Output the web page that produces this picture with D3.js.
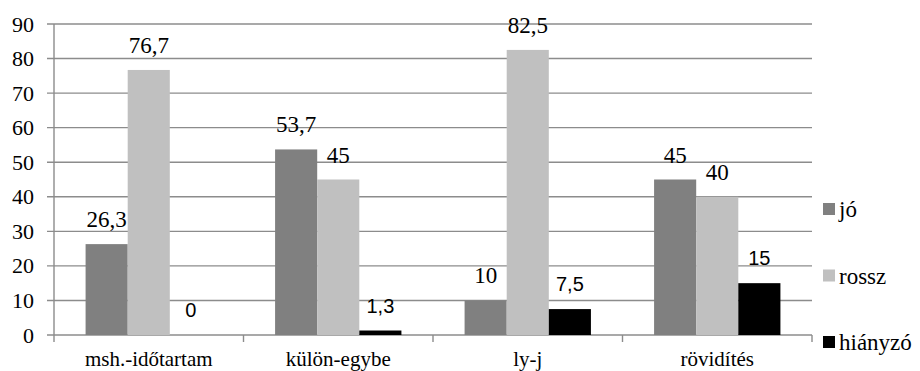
<!DOCTYPE html>
<html>
<head>
<meta charset="utf-8">
<script src="https://cdn.jsdelivr.net/npm/d3@7"></script>
<style>
  html, body { margin: 0; padding: 0; background: #fff; }
  svg { display: block; }
  .serif { font-family: "Liberation Serif", "DejaVu Serif", "Nimbus Roman", "Nimbus Roman No9 L", "FreeSerif", "Tinos", "Noto Serif", "Times New Roman", Times, serif; }
  .sans { font-family: "Liberation Sans", Arial, "DejaVu Sans", sans-serif; }
</style>
</head>
<body>
<svg id="chart" width="920" height="371"></svg>
<script>
// Categories and series values
const categories = ["msh.-időtartam", "külön-egybe", "ly-j", "rövidítés"];
const seriesNames = ["jó", "rossz", "hiányzó"];
const joValues = [26.3, 53.7, 10, 45];
const rosszValues = [76.7, 45, 82.5, 40];
const hianyzoValues = [0, 1.3, 7.5, 15];
const yTicks = [0, 10, 20, 30, 40, 50, 60, 70, 80, 90];

const seriesValues = [joValues, rosszValues, hianyzoValues];
const colors = ["#808080", "#c0c0c0", "#000000"];
const fmt = v => String(v).replace(".", ",");

const svg = d3.select("#chart");
const plotLeft = 54, plotRight = 812, plotTop = 24, plotBottom = 335;

const x0 = d3.scaleBand().domain(categories).range([plotLeft, plotRight]).padding(0);
const x1 = d3.scaleBand().domain(seriesNames).range([0, x0.bandwidth()])
  .paddingInner(0).paddingOuter(0.75);
const y = d3.scaleLinear().domain([0, 90]).range([plotBottom, plotTop]);

const gridColor = "#8c8c8c";

// Horizontal gridlines with left tick marks
svg.append("g").selectAll("line").data(yTicks).join("line")
  .attr("x1", plotLeft - 7).attr("x2", plotRight)
  .attr("y1", d => y(d)).attr("y2", d => y(d))
  .attr("stroke", gridColor).attr("stroke-width", 1.4);

// Y axis labels
svg.append("g").selectAll("text").data(yTicks).join("text")
  .attr("class", "serif")
  .attr("x", 34).attr("y", d => y(d) + 7.5)
  .attr("text-anchor", "end")
  .style("font-size", "22px")
  .text(d => d);

// Vertical axis line
svg.append("line")
  .attr("x1", plotLeft).attr("x2", plotLeft)
  .attr("y1", plotTop).attr("y2", plotBottom + 7)
  .attr("stroke", gridColor).attr("stroke-width", 1.4);

// Category boundary ticks
const boundaries = categories.map(c => x0(c) + x0.bandwidth());
svg.append("g").selectAll("line").data(boundaries).join("line")
  .attr("x1", d => d).attr("x2", d => d)
  .attr("y1", plotBottom).attr("y2", plotBottom + 7)
  .attr("stroke", gridColor).attr("stroke-width", 1.4);

// Bars
const groups = svg.append("g").selectAll("g").data(categories).join("g")
  .attr("transform", c => `translate(${x0(c)},0)`);

seriesNames.forEach((s, si) => {
  groups.append("rect")
    .attr("x", x1(s))
    .attr("width", x1.bandwidth())
    .attr("y", (c, ci) => y(seriesValues[si][ci]))
    .attr("height", (c, ci) => y(0) - y(seriesValues[si][ci]))
    .attr("fill", colors[si]);
});

// Value labels (the missing-answer series uses a sans face)
seriesNames.forEach((s, si) => {
  const isSans = si === 2;
  groups.append("text")
    .attr("class", isSans ? "sans" : "serif")
    .attr("x", x1(s) + x1.bandwidth() / 2)
    .attr("y", (c, ci) => y(seriesValues[si][ci]) - (isSans ? 18 : 17))
    .attr("text-anchor", "middle")
    .style("font-size", isSans ? "20px" : "23px")
    .text((c, ci) => fmt(seriesValues[si][ci]));
});

// Category labels
svg.append("g").selectAll("text").data(categories).join("text")
  .attr("class", "serif")
  .attr("x", c => x0(c) + x0.bandwidth() / 2)
  .attr("y", 366)
  .attr("text-anchor", "middle")
  .style("font-size", "21px")
  .text(c => c);

// Legend
const legend = svg.append("g").selectAll("g").data(seriesNames).join("g")
  .attr("transform", (d, i) => `translate(823,${217 + i * 66.5})`);
legend.append("rect")
  .attr("x", 0).attr("y", -14).attr("width", 12).attr("height", 12)
  .attr("fill", (d, i) => colors[i]);
legend.append("text")
  .attr("class", "serif")
  .attr("x", 16).attr("y", 0)
  .style("font-size", "23px")
  .text(d => d);
</script>
</body>
</html>
